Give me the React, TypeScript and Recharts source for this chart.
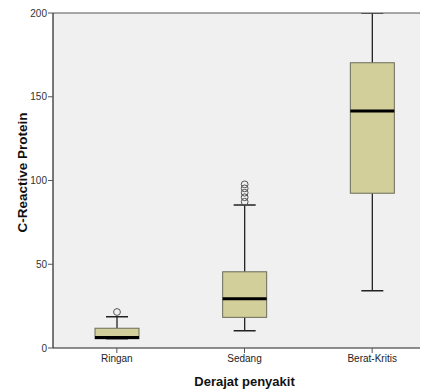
import React from 'react';
import { ComposedChart, Bar, XAxis, YAxis, CartesianGrid, ReferenceLine, Label } from 'recharts';

const categories = ['Ringan', 'Sedang', 'Berat-Kritis'];
const whiskerLow = [5.5, 10.3, 34.2];
const q1 = [5.5, 18.3, 92.4];
const median = [6.3, 29.4, 141.5];
const q3 = [11.8, 45.5, 170.3];
const whiskerHigh = [18.7, 85.4, 200];
const outliers = [[21.5], [87.3, 90.0, 92.7, 95.3, 97.7], []];
const yTicks = [0, 50, 100, 150, 200];

const data = categories.map((name, i) => ({
  name,
  range: [whiskerLow[i], whiskerHigh[i]],
  lo: whiskerLow[i],
  hi: whiskerHigh[i],
  q1: q1[i],
  median: median[i],
  q3: q3[i],
  outliers: outliers[i],
}));

const BoxShape = (props: any) => {
  const { x, y, width, height, payload } = props;
  const top = Math.min(y, y + height);
  const bottom = Math.max(y, y + height);
  const lo = payload.lo;
  const hi = payload.hi;
  const span = hi - lo;
  const py = (v: number) => (span === 0 ? top : top + (bottom - top) * (hi - v) / span);
  const cx = x + width / 2;
  const capHalf = 11;
  const yQ1 = py(payload.q1);
  const yQ3 = py(payload.q3);
  const yMed = py(payload.median);
  return (
    <g>
      <line x1={cx} x2={cx} y1={py(hi)} y2={yQ3} stroke="#222" strokeWidth={1.3} />
      <line x1={cx} x2={cx} y1={yQ1} y2={py(lo)} stroke="#222" strokeWidth={1.3} />
      <line x1={cx - capHalf} x2={cx + capHalf} y1={py(hi)} y2={py(hi)} stroke="#222" strokeWidth={1.5} />
      <line x1={cx - capHalf} x2={cx + capHalf} y1={py(lo)} y2={py(lo)} stroke="#222" strokeWidth={1.5} />
      <rect x={x} y={yQ3} width={width} height={yQ1 - yQ3} fill="#d3cf9b" stroke="#6b6b5a" strokeWidth={1} />
      <line x1={x} x2={x + width} y1={yMed} y2={yMed} stroke="#000" strokeWidth={3} />
      {payload.outliers.map((v: number, k: number) => (
        <circle key={k} cx={cx} cy={py(v)} r={3.4} fill="none" stroke="#555" strokeWidth={1} />
      ))}
    </g>
  );
};

const YTitle = (props: any) => {
  const vb = props.viewBox || {};
  const tx = 22;
  const ty = vb.y + vb.height / 2 - 8;
  return (
    <text
      x={tx}
      y={ty}
      transform={`rotate(-90, ${tx}, ${ty})`}
      textAnchor="middle"
      dominantBaseline="central"
      fontFamily="'Liberation Sans', Arial, sans-serif"
      fontWeight="bold"
      fontSize={13.5}
      fill="#111"
    >
      C-Reactive Protein
    </text>
  );
};

export default function App() {
  return (
    <div style={{ margin: '-8px 0 0 -8px', width: 428, height: 390, overflow: 'hidden', background: '#fff' }}>
      <ComposedChart
        width={436}
        height={390}
        data={data}
        margin={{ top: 13, right: 0, bottom: 0, left: 0 }}
        style={{ fontFamily: "'Liberation Sans', Arial, sans-serif" }}
      >
        <CartesianGrid horizontal={false} vertical={false} fill="#f0f0f0" />
        <ReferenceLine y={200} stroke="#555" strokeWidth={1} />
        <XAxis
          dataKey="name"
          height={42}
          tickSize={5}
          tickMargin={2}
          axisLine={{ stroke: '#222', strokeWidth: 1.2 }}
          tickLine={{ stroke: '#555' }}
          tick={{ fontSize: 10, fill: '#222' }}
        >
          <Label
            value="Derajat penyakit"
            position="insideBottom"
            offset={4}
            style={{ fontSize: 13, fontWeight: 'bold', fill: '#111' }}
          />
        </XAxis>
        <YAxis
          type="number"
          domain={[0, 200]}
          ticks={yTicks}
          width={53}
          tickSize={5}
          tickMargin={1}
          axisLine={{ stroke: '#222', strokeWidth: 1.2 }}
          tickLine={{ stroke: '#555' }}
          tick={{ fontSize: 10, fill: '#333' }}
          allowDataOverflow
        >
          <Label content={<YTitle />} />
        </YAxis>
        <Bar dataKey="range" barSize={44} shape={<BoxShape />} isAnimationActive={false} />
      </ComposedChart>
    </div>
  );
}
